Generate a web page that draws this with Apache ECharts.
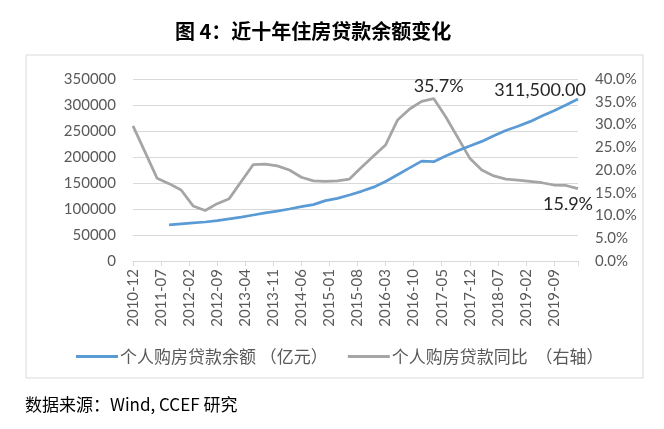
<!DOCTYPE html>
<html>
<head>
<meta charset="utf-8">
<script src="https://cdn.jsdelivr.net/npm/echarts@6/dist/echarts.min.js"></script>
<style>
  html, body { margin: 0; padding: 0; background: #fff; }
  #chart { width: 664px; height: 429px; }
</style>
</head>
<body>
<div id="chart"></div>
<script>
// 季度数据（月份为类目轴上的位置）
const balanceDates = ['2011-09', '2011-12', '2012-03', '2012-06', '2012-09', '2012-12',
  '2013-03', '2013-06', '2013-09', '2013-12', '2014-03', '2014-06', '2014-09', '2014-12',
  '2015-03', '2015-06', '2015-09', '2015-12', '2016-03', '2016-06', '2016-09', '2016-12',
  '2017-03', '2017-06', '2017-09', '2017-12', '2018-03', '2018-06', '2018-09', '2018-12',
  '2019-03', '2019-06', '2019-09', '2019-12', '2020-03'];
const balanceValues = [69500, 71500, 73500, 75000, 77500, 81000,
  84500, 88500, 92500, 96000, 100000, 104500, 108500, 116000,
  120500, 127000, 134000, 142000, 153000, 166000, 179000, 192000,
  191000, 202000, 212000, 221000, 230000, 241000, 251000, 259000,
  268000, 279000, 289000, 300000, 311500];

const growthDates = ['2010-12', '2011-06', '2011-09', '2011-12', '2012-03', '2012-06', '2012-09',
  '2012-12', '2013-06', '2013-09', '2013-12', '2014-03', '2014-06', '2014-09', '2014-12',
  '2015-03', '2015-06', '2015-09', '2015-12', '2016-03', '2016-06', '2016-09', '2016-12',
  '2017-03', '2017-06', '2017-12', '2018-03', '2018-06', '2018-09', '2018-12',
  '2019-03', '2019-06', '2019-09', '2019-12', '2020-03'];
const growthValues = [29.7, 18.2, 17.0, 15.6, 12.1, 11.1, 12.6,
  13.7, 21.2, 21.3, 20.9, 20.0, 18.4, 17.6, 17.5,
  17.6, 18.0, 20.6, 23.1, 25.5, 31.0, 33.4, 35.1,
  35.7, 31.7, 22.6, 20.0, 18.7, 18.0, 17.8,
  17.5, 17.2, 16.7, 16.6, 15.9];

const leftTicks = { min: 0, max: 350000, interval: 50000 };
const rightTicks = { min: 0, max: 40, interval: 5 };

// 月度类目：2010-12 到 2020-03
const months = [];
for (let y = 2010, m = 12; y < 2020 || (y === 2020 && m <= 3); ) {
  months.push(y + '-' + (m < 10 ? '0' + m : m));
  m++;
  if (m > 12) { m = 1; y++; }
}

const numFont = 'Lato, "Noto Sans CJK SC", sans-serif';
const cjkFont = '"Noto Sans CJK SC", sans-serif';

const chart = echarts.init(document.getElementById('chart'));

const option = {
  backgroundColor: '#fff',
  animation: false,
  title: {
    text: '图 4：近十年住房贷款余额变化',
    left: 170,
    top: 16,
    textStyle: { fontFamily: cjkFont, fontSize: 20, fontWeight: 'bold', color: '#000' }
  },
  graphic: [
    {
      type: 'rect',
      shape: { x: 26, y: 55, width: 617, height: 323 },
      style: { fill: 'none', stroke: '#d9d9d9', lineWidth: 1 },
      silent: true
    },
    {
      type: 'text',
      left: 25,
      top: 396,
      style: { text: '数据来源：Wind, CCEF 研究', font: '17px "Noto Sans CJK SC", sans-serif', fill: '#000' }
    }
  ],
  legend: {
    top: 343,
    left: 71,
    itemWidth: 42,
    itemHeight: 3,
    itemGap: 20,
    icon: 'rect',
    textStyle: { fontFamily: cjkFont, fontSize: 17, color: '#595959', padding: [0, 0, 0, -3] },
    data: ['个人购房贷款余额 （亿元）', '个人购房贷款同比  （右轴）']
  },
  grid: { left: 133, right: 86, top: 79, bottom: 168 },
  xAxis: {
    type: 'category',
    data: months,
    boundaryGap: false,
    axisLine: { lineStyle: { color: '#d9d9d9', width: 1 } },
    axisTick: {
      show: true,
      length: 5,
      lineStyle: { color: '#d9d9d9' },
      interval: (i) => i % 7 === 0 || i === months.length - 1
    },
    axisLabel: {
      interval: 6,
      rotate: 90,
      color: '#595959',
      fontFamily: numFont,
      fontSize: 15,
      margin: 8
    },
    splitLine: { show: false }
  },
  yAxis: [
    {
      type: 'value',
      min: leftTicks.min,
      max: leftTicks.max,
      interval: leftTicks.interval,
      axisLine: { show: false },
      axisTick: { show: false },
      axisLabel: {
        color: '#595959', fontFamily: numFont, fontSize: 15, margin: 17,
        formatter: (v) => String(v)
      },
      splitLine: { lineStyle: { color: '#d9d9d9', width: 1 } }
    },
    {
      type: 'value',
      min: rightTicks.min,
      max: rightTicks.max,
      interval: rightTicks.interval,
      axisLine: { show: false },
      axisTick: { show: false },
      axisLabel: {
        color: '#595959', fontFamily: numFont, fontSize: 15, margin: 17,
        formatter: (v) => v.toFixed(1) + '%'
      },
      splitLine: { show: false }
    }
  ],
  series: [
    {
      name: '个人购房贷款余额 （亿元）',
      type: 'line',
      yAxisIndex: 0,
      symbol: 'none',
      color: '#5B9BD5',
      lineStyle: { width: 2.75, color: '#5B9BD5' },
      data: balanceDates.map((d, i) => [d, balanceValues[i]]),
      endLabel: {
        show: true,
        formatter: (p) => p.value[1].toLocaleString('en-US', { minimumFractionDigits: 2 }),
        align: 'right',
        verticalAlign: 'bottom',
        offset: [0, 0],
        fontFamily: numFont,
        fontSize: 18,
        color: '#262626'
      },
      z: 3
    },
    {
      name: '个人购房贷款同比  （右轴）',
      type: 'line',
      yAxisIndex: 1,
      symbol: 'none',
      color: '#A5A5A5',
      lineStyle: { width: 2.75, color: '#A5A5A5' },
      data: growthDates.map((d, i) => [d, growthValues[i]]),
      endLabel: {
        show: true,
        formatter: (p) => p.value[1].toFixed(1) + '%',
        align: 'right',
        verticalAlign: 'top',
        offset: [7, 7],
        fontFamily: numFont,
        fontSize: 18,
        color: '#262626'
      },
      markPoint: {
        symbol: 'circle',
        symbolSize: 0,
        data: [{ type: 'max' }],
        label: {
          show: true,
          position: 'top',
          distance: 3,
          offset: [5, 0],
          formatter: (p) => p.value.toFixed(1) + '%',
          fontFamily: numFont,
          fontSize: 18,
          color: '#262626'
        }
      },
      z: 2
    }
  ]
};

chart.setOption(option);
window.addEventListener('resize', () => chart.resize());
</script>
</body>
</html>
